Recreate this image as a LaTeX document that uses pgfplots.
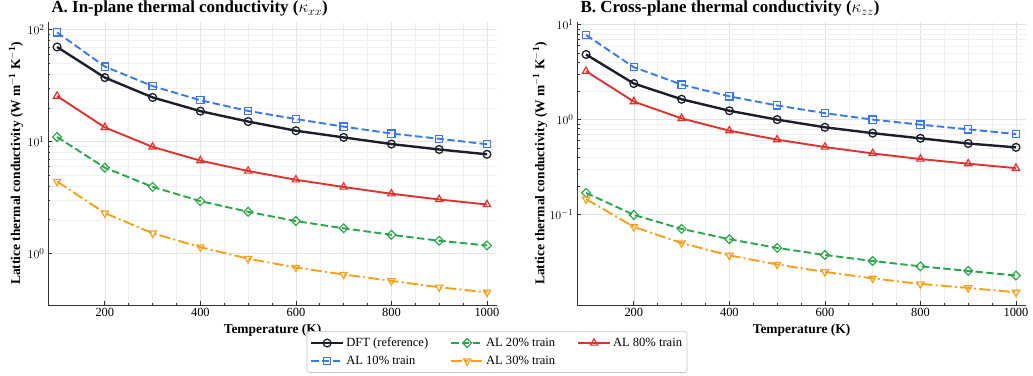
\documentclass[border=0pt]{standalone}
\usepackage{pgfplots}
\pgfplotsset{compat=1.18}
\usepackage{fontspec}
\setmainfont{Liberation Serif}

\definecolor{cDFT}{HTML}{1B1F2B}
\definecolor{cBlue}{HTML}{3A78EA}
\definecolor{cGreen}{HTML}{2BA54A}
\definecolor{cRed}{HTML}{E0312E}
\definecolor{cOrange}{HTML}{F5A01A}
\definecolor{gridmajor}{HTML}{E3E3E3}
\definecolor{gridminor}{HTML}{F0F0F0}
\definecolor{spine}{HTML}{333333}

% In-plane lattice thermal conductivity kappa_xx (W/m/K)
\pgfplotstableread{
T    dft   al10  al20  al30  al80
100  70.0  94.5  11.0  4.40  25.5
200  37.3  46.8  5.85  2.30  13.4
300  24.8  31.3  3.94  1.52  8.96
400  18.7  23.4  2.94  1.14  6.76
500  15.1  18.8  2.36  0.90  5.46
600  12.5  15.9  1.95  0.75  4.56
700  10.9  13.6  1.68  0.65  3.93
800  9.50  11.8  1.47  0.57  3.42
900  8.50  10.6  1.30  0.50  3.04
1000 7.70  9.46  1.18  0.45  2.74
}\kxx

% Cross-plane lattice thermal conductivity kappa_zz (W/m/K)
\pgfplotstableread{
T    dft   al10  al20    al30    al80
100  4.86  7.80  0.169   0.145   3.24
200  2.40  3.57  0.099   0.074   1.55
300  1.64  2.34  0.0705  0.050   1.03
400  1.24  1.76  0.0548  0.037   0.765
500  1.00  1.41  0.0444  0.0297  0.615
600  0.83  1.17  0.0374  0.0248  0.514
700  0.72  1.00  0.0323  0.0212  0.440
800  0.635 0.885 0.0284  0.0185  0.384
900  0.56  0.79  0.0254  0.0168  0.343
1000 0.51  0.705 0.0227  0.0151  0.308
}\kzz

\pgfplotsset{
  kpanel/.style={
    scale only axis, width=449bp, height=283bp,
    xmin=81, xmax=1021,
    xtick={200,400,600,800,1000},
    xticklabels={200,400,600,800,1000},
    minor x tick num=3,
    axis x line*=bottom, axis y line*=left,
    axis line style={spine, line width=0.9pt},
    tick align=inside,
    major tick length=4bp, minor tick length=2.5bp,
    tick style={spine, line width=0.7pt},
    grid=both,
    major grid style={gridmajor, line width=0.6pt},
    minor grid style={gridminor, line width=0.5pt},
    tick label style={font=\fontsize{12.5}{13}\selectfont},
    xlabel={\textbf{Temperature (K)}},
    xlabel style={font=\fontsize{13.5}{14}\selectfont, at={(axis description cs:0.5,0)}, anchor=center, yshift=-25bp},
    ylabel={\textbf{Lattice thermal conductivity (W m$^{\mathbf{-1}}$ K$^{\mathbf{-1}}$)}},
    ylabel style={font=\fontsize{13.5}{14}\selectfont, anchor=center},
    every axis title shift=0pt,
    title style={font=\bfseries\fontsize{17}{18}\selectfont, at={(axis description cs:0,1)}, anchor=base west, yshift=9bp},
    legend image code/.code={\draw[mark repeat=2, mark phase=2] plot coordinates {(0bp,0bp) (16bp,0bp) (32bp,0bp)};},
  },
  sDFT/.style={cDFT, line width=2.4pt, mark=o, mark size=3.9bp, mark options={solid, fill=white, line width=1.3pt}},
  sB/.style={cBlue, line width=1.9pt, dash pattern=on 7.4bp off 3.4bp, mark=square, mark size=3.6bp, mark options={solid, fill=white, line width=1.2pt}},
  sG/.style={cGreen, line width=1.9pt, dash pattern=on 7.4bp off 3.4bp, mark=square, mark size=3.1bp, mark options={solid, fill=white, line width=1.2pt, rotate=45}},
  sO/.style={cOrange, line width=1.9pt, dash pattern=on 11bp off 3.2bp on 2bp off 3.2bp, mark=triangle, mark size=4.2bp, mark options={solid, fill=white, line width=1.2pt, rotate=180}},
  sR/.style={cRed, line width=1.9pt, mark=triangle, mark size=4.2bp, mark options={solid, fill=white, line width=1.2pt}},
}

\begin{document}
\begin{tikzpicture}
\useasboundingbox (0,0) rectangle (1033bp,376bp);

% Panel A: in-plane
\begin{axis}[kpanel, ymode=log, at={(48bp,71bp)}, anchor=south west,
  ymin=0.347, ymax=117,
  ytick={1,10,100},
  ylabel style={at={(axis description cs:-0.0713,0.5)}},
  title={A. In-plane thermal conductivity ($\kappa_{xx}$)},
  legend columns=3,
  legend style={at={(1,-0.092)}, anchor=north, draw=gray!45, line width=0.7pt,
    rounded corners=2.5bp, fill=white, font=\fontsize{12.6}{13}\selectfont,
    inner xsep=3bp, inner ysep=4.5bp, row sep=4bp,
    /tikz/every even column/.append style={column sep=20bp}},
  legend cell align=left,
]
\addplot[sDFT] table[x=T, y=dft] {\kxx};
\addlegendentry{DFT (reference)}
\addplot[sG] table[x=T, y=al20] {\kxx};
\addlegendentry{AL 20\% train}
\addplot[sR] table[x=T, y=al80] {\kxx};
\addlegendentry{AL 80\% train}
\addplot[sB] table[x=T, y=al10] {\kxx};
\addlegendentry{AL 10\% train}
\addplot[sO] table[x=T, y=al30] {\kxx};
\addlegendentry{AL 30\% train}
\end{axis}

% Panel B: cross-plane
\begin{axis}[kpanel, ymode=log, at={(577bp,71bp)}, anchor=south west,
  ymin=0.0111, ymax=10.7,
  ytick={0.1,1,10},
  ylabel style={at={(axis description cs:-0.0822,0.5)}},
  title={B. Cross-plane thermal conductivity ($\kappa_{zz}$)},
]
\addplot[sDFT] table[x=T, y=dft] {\kzz};
\addplot[sB] table[x=T, y=al10] {\kzz};
\addplot[sG] table[x=T, y=al20] {\kzz};
\addplot[sO] table[x=T, y=al30] {\kzz};
\addplot[sR] table[x=T, y=al80] {\kzz};
\end{axis}
\end{tikzpicture}
\end{document}
